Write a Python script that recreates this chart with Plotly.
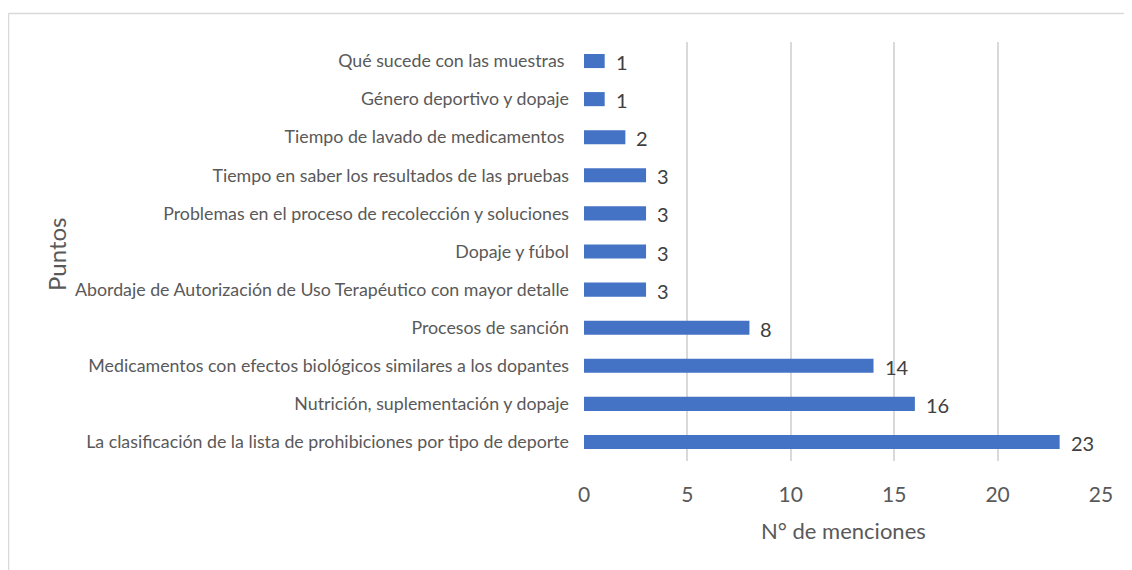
import plotly.graph_objects as go

categories = [
    "Qué sucede con las muestras ",
    "Género deportivo y dopaje",
    "Tiempo de lavado de medicamentos ",
    "Tiempo en saber los resultados de las pruebas",
    "Problemas en el proceso de recolección y soluciones",
    "Dopaje y fúbol",
    "Abordaje de Autorización de Uso Terapéutico con mayor detalle",
    "Procesos de sanción",
    "Medicamentos con efectos biológicos similares a los dopantes",
    "Nutrición, suplementación y dopaje",
    "La clasificación de la lista de prohibiciones por tipo de deporte",
]
values = [1, 1, 2, 3, 3, 3, 3, 8, 14, 16, 23]
x_ticks = [0, 5, 10, 15, 20, 25]

FONT = "Lato"
OFF = 8  # page body margin
W, H = 1132 - OFF, 570 - OFF
L, R, T, B = 584 - OFF, 31, 42 - OFF, 109
pw, ph = W - L - R, H - T - B


def px2x(px):
    return (px - OFF - L) / pw


def py2y(py):
    return (H - B - (py - OFF)) / ph


fig = go.Figure()
fig.add_trace(go.Bar(
    x=values, y=categories, orientation="h",
    marker=dict(color="#4472C4", line=dict(width=0)),
    width=0.37,
))

for v, c in zip(values, categories):
    fig.add_annotation(x=v, y=c, xref="x", yref="y", text=str(v),
                       showarrow=False, xanchor="left", yanchor="middle",
                       xshift=9, yshift=-1,
                       font=dict(family=FONT, size=20, color="#404040"))

# axis titles
fig.add_annotation(x=px2x(843), y=py2y(530), xref="paper", yref="paper",
                   text="N° de menciones", showarrow=False,
                   xanchor="center", yanchor="middle",
                   font=dict(family=FONT, size=22, color="#595959"))
fig.add_annotation(x=px2x(56), y=py2y(255), xref="paper", yref="paper",
                   text="Puntos", showarrow=False, textangle=-90,
                   xanchor="center", yanchor="middle",
                   font=dict(family=FONT, size=24, color="#595959"))

# chart border (top and left visible)
fig.add_shape(type="line", xref="paper", yref="paper",
              x0=px2x(8.5), x1=px2x(1145), y0=py2y(13.5), y1=py2y(13.5),
              line=dict(color="#d9d9d9", width=1.5))
fig.add_shape(type="line", xref="paper", yref="paper",
              x0=px2x(8.5), x1=px2x(8.5), y0=py2y(13.5), y1=py2y(590),
              line=dict(color="#d9d9d9", width=1.5))

fig.update_layout(
    width=W, height=H,
    margin=dict(l=L, r=R, t=T, b=B, pad=0),
    paper_bgcolor="white", plot_bgcolor="white",
    showlegend=False,
    xaxis=dict(range=[0, 25], tickvals=x_ticks, showgrid=True,
               gridcolor="#d9d9d9", gridwidth=1.5, zeroline=False,
               showline=False, ticks="", ticklabelstandoff=19,
               tickfont=dict(family=FONT, size=21, color="#595959")),
    yaxis=dict(autorange="reversed", showgrid=False, zeroline=False,
               showline=False, ticks="", ticklabelstandoff=14,
               tickfont=dict(family=FONT, size=17.8, color="#595959")),
)

fig.write_html("out.html")
